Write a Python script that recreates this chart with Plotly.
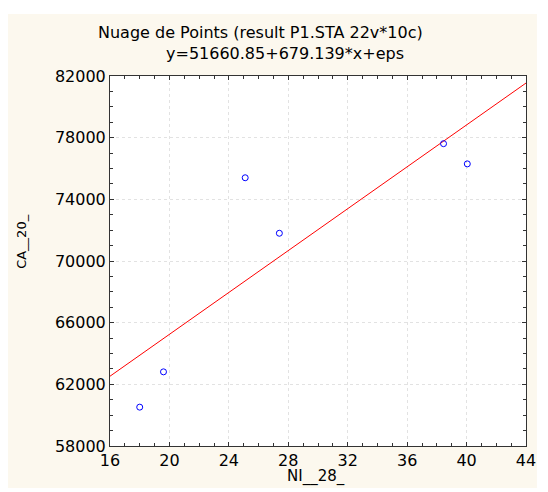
import plotly.graph_objects as go

# Data
ni_28 = [18.0, 19.6, 25.1, 27.4, 38.45, 40.05]
ca_20 = [60520, 62810, 75400, 71800, 77610, 76300]
intercept = 51660.85
slope = 679.139
x_range = [16, 44]
y_range = [58000, 82000]
x_ticks = [16, 20, 24, 28, 32, 36, 40, 44]
y_ticks = [58000, 62000, 66000, 70000, 74000, 78000, 82000]

title_l1 = "Nuage de Points (result P1.STA 22v*10c)"
title_l2 = "y=51660.85+679.139*x+eps"
x_title = "NI__28_"
y_title = "CA__20_"

cream = "#FCF8EE"
font = "DejaVu Sans, Liberation Sans, Arial, sans-serif"

# plot area in pixels
L, R, T, B = 110, 530, 76, 446
W, H = R - L, B - T


def px(x):
    return (x - L) / W


def py(y):
    return (B - y) / H


fig = go.Figure()
line_x = x_range
line_y = [intercept + slope * v for v in line_x]
fig.add_trace(go.Scatter(x=line_x, y=line_y, mode="lines",
                         line=dict(color="#FF0000", width=1), hoverinfo="skip"))
fig.add_trace(go.Scatter(x=ni_28, y=ca_20, mode="markers",
                         marker=dict(symbol="circle-open", size=6,
                                     color="#0000FF", line=dict(width=1, color="#0000FF"))))

axis_common = dict(
    showline=True, linecolor="#333333", linewidth=1, mirror="allticks",
    ticks="inside", ticklen=4, tickcolor="#333333", tickwidth=1,
    showgrid=True, gridcolor="#e2e2e2", griddash="dot", gridwidth=1,
    zeroline=False,
    tickfont=dict(family=font, size=16, color="#000000"),
)

fig.update_xaxes(range=x_range, tickvals=x_ticks, ticktext=[str(v) for v in x_ticks],
                 minor=dict(dtick=1, ticklen=3, ticks="inside", tickcolor="#333333", showgrid=False),
                 **axis_common)
fig.update_yaxes(range=y_range, tickvals=y_ticks, ticktext=[str(v) for v in y_ticks],
                 minor=dict(dtick=1000, ticklen=3, ticks="inside", tickcolor="#333333", showgrid=False),
                 **axis_common)

fig.update_layout(
    width=548, height=492,
    margin=dict(l=L, r=548 - R, t=T, b=492 - B),
    paper_bgcolor="white", plot_bgcolor="white",
    showlegend=False,
    shapes=[
        dict(type="rect", xref="paper", yref="paper", layer="below",
             x0=px(7), x1=px(541), y0=py(488), y1=py(14),
             fillcolor=cream, line=dict(width=0)),
        dict(type="rect", xref="paper", yref="paper", layer="below",
             x0=0, x1=1, y0=0, y1=1, fillcolor="white", line=dict(width=0)),
    ],
    annotations=[
        dict(text=title_l1, xref="paper", yref="paper", x=px(262), y=py(32),
             xanchor="center", yanchor="middle", showarrow=False,
             font=dict(family=font, size=16, color="#000")),
        dict(text=title_l2, xref="paper", yref="paper", x=px(287), y=py(54),
             xanchor="center", yanchor="middle", showarrow=False,
             font=dict(family=font, size=16, color="#000")),
        dict(text=x_title, xref="paper", yref="paper", x=px(318), y=py(476),
             xanchor="center", yanchor="middle", showarrow=False,
             font=dict(family=font, size=15, color="#000")),
        dict(text=y_title, xref="paper", yref="paper", x=px(20), y=py(241),
             xanchor="center", yanchor="middle", showarrow=False, textangle=-90,
             font=dict(family=font, size=13, color="#000")),
    ],
)

fig.write_html(
    "out.html",
    config={"displayModeBar": False},
    post_script=(
        "document.body.style.margin='0';"
        "document.body.style.overflow='hidden';"
        "document.documentElement.style.overflow='hidden';"
    ),
)
